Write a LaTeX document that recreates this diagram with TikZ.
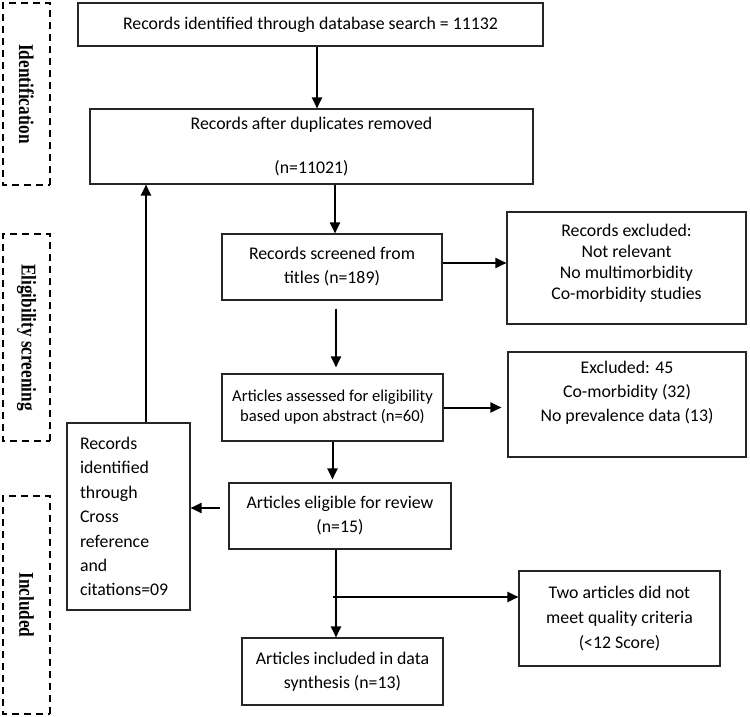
\documentclass[tikz,border=0pt]{standalone}
\usepackage{graphicx}
\usepackage{fontspec}
\setmainfont{Carlito}
\newfontfamily\phasefont{Liberation Serif}
\usetikzlibrary{arrows.meta}

\begin{document}
\begin{tikzpicture}[x=1pt,y=-1pt,
  box/.style={draw=black!85,line width=1.1pt,rectangle,inner sep=0pt,align=center,font=\fontsize{17.8}{24}\selectfont},
  phase/.style={draw,dashed,dash pattern=on 7pt off 5pt,line width=1.4pt,rotate=-90,minimum height=47pt,inner sep=0pt,font=\phasefont\bfseries\fontsize{21}{22}\selectfont},
  arr/.style={-{Triangle[length=11pt,width=10pt]},line width=2pt}]
\useasboundingbox (0,0) rectangle (750,717);
% phases on the left
\foreach \nm/\yc/\h/\txt in {idf/94/182/Identification,elg/337.5/207/Eligibility screening,inc/605/218/Included}
  \node[phase,minimum width=\h] (\nm) at (26.5,\yc) {\scalebox{0.82}[1]{\txt}};
\node[box,minimum width=465,minimum height=43] (search) at (310.5,24.5) {Records identified through database search = 11132};
\node[box,minimum width=443,minimum height=75] (dupl) at (311.5,146.5) {Records after duplicates removed\\[20pt](n=11021)};
\node[box,minimum width=220,minimum height=66] (titles) at (332,267) {Records screened from\\titles (n=189)};
\node[box,minimum width=239,minimum height=112,font=\fontsize{17.8}{21}\selectfont] (excl) at (626.5,268) {Records excluded:\\Not relevant\\No multimorbidity\\Co-morbidity studies\\[-8pt]};
\node[box,minimum width=221,minimum height=67,font=\fontsize{16.6}{20}\selectfont] (abstr) at (332.5,407.5) {Articles assessed for eligibility\\based upon abstract (n=60)};
\node[box,minimum width=238,minimum height=105] (excl45) at (627,404.5) {Excluded: 45\\Co-morbidity (32)\\No prevalence data (13)\\[2pt]};
\node[box,minimum width=222,minimum height=66] (elig) at (340,516) {Articles eligible for review\\(n=15)};
\node[box,minimum width=123,minimum height=187,text width=97,align=left,font=\fontsize{17.8}{24.4}\selectfont] (cross) at (128.5,516.5) {Records\\identified\\through\\Cross\\reference\\and\\citations=09};
\node[box,minimum width=201,minimum height=95,font=\fontsize{17.8}{25}\selectfont] (quality) at (619.5,618.5) {Two articles did not\\meet quality criteria\\(<12 Score)};
\node[box,minimum width=201,minimum height=67] (synth) at (342.5,671.5) {Articles included in data\\synthesis (n=13)};
\draw[arr] ([xshift=6.5pt]search.south) -- ([xshift=6.5pt]search.south |- dupl.north);
\draw[arr] ([xshift=3pt]titles.north |- dupl.south) -- ([xshift=3pt]titles.north);
\draw[arr] ([yshift=4pt]titles.east) -- ([yshift=4pt]titles.east -| excl.west);
\draw[arr,shorten <=8pt,shorten >=6pt] ([xshift=4pt]titles.south) -- ([xshift=4pt]titles.south |- abstr.north);
\draw[arr,shorten >=6pt] (abstr.east) -- (abstr.east -| excl45.west);
\draw[arr,shorten >=3pt] (abstr.south) -- (abstr.south |- elig.north);
\draw[arr,shorten <=8pt] ([yshift=8pt]elig.west) -- ([yshift=8pt]elig.west -| cross.east);
\draw[arr] ([xshift=17.5pt]cross.north) -- ([xshift=17.5pt]cross.north |- dupl.south);
\draw[arr] ([xshift=-4pt]elig.south) -- ([xshift=-4pt]elig.south |- synth.north);
\coordinate (branch) at (333,597);
\draw[arr] (branch) -- (branch -| quality.west);
\end{tikzpicture}
\end{document}
